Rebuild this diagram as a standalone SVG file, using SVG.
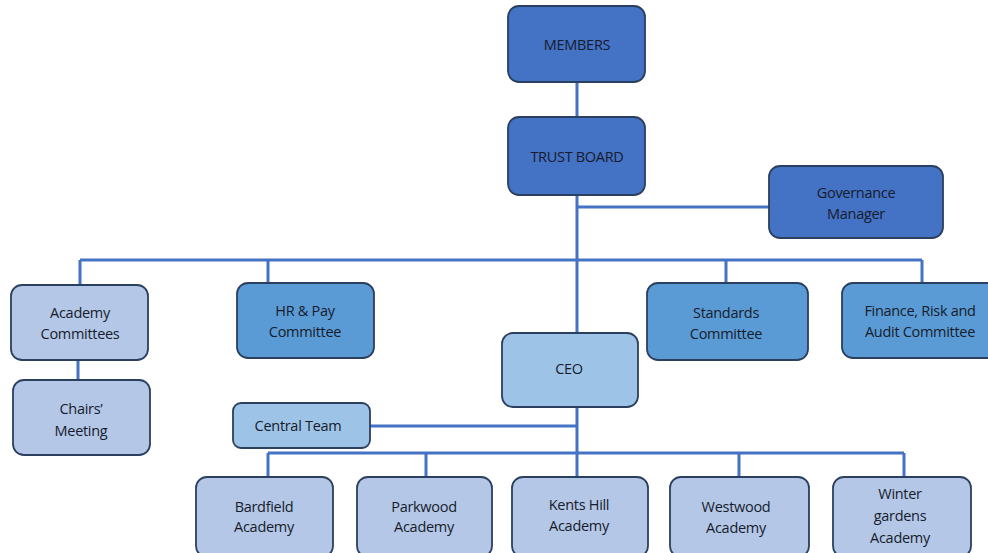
<svg xmlns="http://www.w3.org/2000/svg" width="988" height="553" viewBox="0 0 988 553">
<style>
.n{stroke:#2b3f5e;stroke-width:1.8}
.d{fill:#4472c4}
.m{fill:#5b9bd5}
.l{fill:#9dc3e6}
.p{fill:#b4c7e7}
.c{stroke:#4472c4;stroke-width:3;fill:none}
text{font-family:"Open Sans","Liberation Sans",sans-serif;font-size:14.5px;fill:#161c2c;text-anchor:middle;letter-spacing:-0.3px}
</style>
<rect width="988" height="553" fill="#ffffff"/>
<g id="connectors">
<path class="c" d="M577 82V117M577 195V333M577 207H769M80 260H922M80 260V285M268 260V283M726 260V283M922 260V283M78 360V380M577 407V453M370 426H577M268 453H904M268 453V477M426 453V477M577 453V477M739 453V477M904 453V477"/>
</g>
<g id="members"><rect class="n d" x="508" y="6" width="137" height="76" rx="11"/><text x="577" y="50">MEMBERS</text></g>
<g id="trust-board"><rect class="n d" x="508" y="117" width="137" height="78" rx="11"/><text x="577" y="162">TRUST BOARD</text></g>
<g id="governance-manager"><rect class="n d" x="769" y="166" width="174" height="72" rx="11"/><text x="856" y="198">Governance</text><text x="856" y="219">Manager</text></g>
<g id="academy-committees"><rect class="n p" x="11" y="285" width="137" height="75" rx="11"/><text x="80" y="318">Academy</text><text x="80" y="339">Committees</text></g>
<g id="hr-pay"><rect class="n m" x="237" y="283" width="137" height="75" rx="11"/><text x="305" y="316">HR &amp; Pay</text><text x="305" y="337">Committee</text></g>
<g id="standards"><rect class="n m" x="647" y="283" width="161" height="77" rx="11"/><text x="726" y="318">Standards</text><text x="726" y="339">Committee</text></g>
<g id="finance"><rect class="n m" x="842" y="283" width="160" height="75" rx="11"/><text x="920" y="316">Finance, Risk and</text><text x="920" y="337">Audit Committee</text></g>
<g id="ceo"><rect class="n l" x="502" y="333" width="136" height="74" rx="11"/><text x="569" y="374">CEO</text></g>
<g id="chairs-meeting"><rect class="n p" x="13" y="380" width="137" height="75" rx="11"/><text x="81" y="414">Chairs’</text><text x="81" y="436">Meeting</text></g>
<g id="central-team"><rect class="n l" x="233" y="403" width="137" height="45" rx="8"/><text x="298" y="431">Central Team</text></g>
<g id="bardfield"><rect class="n p" x="196" y="477" width="137" height="80" rx="11"/><text x="264" y="512">Bardfield</text><text x="264" y="532">Academy</text></g>
<g id="parkwood"><rect class="n p" x="357" y="477" width="135" height="80" rx="11"/><text x="424" y="512">Parkwood</text><text x="424" y="532">Academy</text></g>
<g id="kents-hill"><rect class="n p" x="512" y="477" width="136" height="80" rx="11"/><text x="579" y="510">Kents Hill</text><text x="579" y="531">Academy</text></g>
<g id="westwood"><rect class="n p" x="670" y="477" width="139" height="80" rx="11"/><text x="736" y="512">Westwood</text><text x="736" y="533">Academy</text></g>
<g id="winter-gardens"><rect class="n p" x="833" y="477" width="138" height="80" rx="11"/><text x="900" y="499">Winter</text><text x="900" y="521">gardens</text><text x="900" y="543">Academy</text></g>
</svg>
